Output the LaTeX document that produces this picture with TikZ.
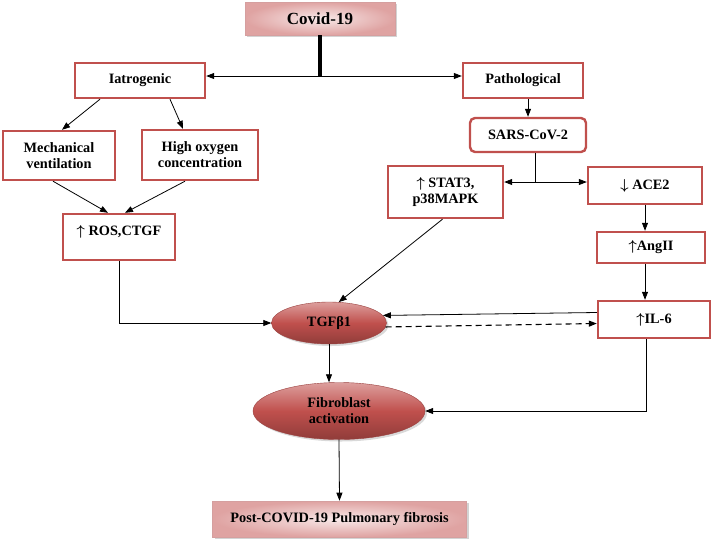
\documentclass[tikz,border=0pt]{standalone}
\usepackage{fontspec}
\setmainfont{Liberation Serif}
\usetikzlibrary{positioning, arrows.meta, shapes.geometric, shadows}
\definecolor{boxred}{HTML}{C0504D}
\definecolor{pinkdark}{HTML}{DFA3A2}
\definecolor{pinklight}{HTML}{F8E9E9}
\newcommand{\upar}{{\boldmath$\uparrow$}}
\newcommand{\downar}{{\boldmath$\downarrow$}}
\tikzset{
  box/.style={draw=boxred, line width=2.4pt, fill=white, align=center,
    font=\bfseries\fontsize{14.3}{16}\selectfont, inner sep=2pt},
  banner/.style={inner color=pinklight, outer color=pinkdark, draw=pinkdark!90!gray,
    line width=0.6pt, align=center, drop shadow={shadow xshift=2pt, shadow yshift=-2pt, opacity=0.35},
    font=\bfseries\fontsize{14.3}{16}\selectfont},
  oval/.style={ellipse, top color=boxred!55, bottom color=boxred!75!black, middle color=boxred,
    draw=boxred!80!black, line width=0.4pt, align=center,
    drop shadow={shadow xshift=2pt, shadow yshift=-2pt, opacity=0.3},
    font=\bfseries\fontsize{14.3}{16}\selectfont, inner sep=0pt}
}

\begin{document}
\begin{tikzpicture}[x=1pt,y=-1pt,>={Triangle[length=8pt,width=6pt]},line width=0.8pt]
  \useasboundingbox (0,0) rectangle (711,541);

  \node[banner, minimum width=150, minimum height=33, font=\bfseries\fontsize{17}{19}\selectfont] (covid) at (320,18.5) {Covid-19};
  \node[box, minimum width=130, minimum height=35] (iatro) at (140,80.5) {Iatrogenic};
  \node[box, minimum width=120, minimum height=35] (patho) at (523,80.5) {Pathological};
  \node[box, minimum width=112, minimum height=49] (mech) at (59,155.5) {Mechanical\\ventilation};
  \node[box, minimum width=116, minimum height=50] (oxy) at (200,155) {High oxygen\\concentration};
  \node[box, minimum width=112, minimum height=46, text depth=14pt] (ros) at (119,237) {\upar\ ROS,CTGF};
  \node[box, rounded corners=5pt, minimum width=116, minimum height=34] (sars) at (528,135) {SARS-CoV-2};
  \node[box, minimum width=115, minimum height=52] (stat) at (445.5,192) {\upar\ STAT3,\\p38MAPK};
  \node[box, minimum width=114, minimum height=37] (ace) at (645,185.5) {\downar\ ACE2};
  \node[box, minimum width=108, minimum height=31] (ang) at (651,247.5) {\upar AngII};
  \node[box, minimum width=112, minimum height=37] (il6) at (654,319.5) {\upar IL-6};
  \node[oval, minimum width=115, minimum height=42] (tgf) at (329,323) {TGFβ1};
  \node[oval, minimum width=172, minimum height=57] (fib) at (339,411) {Fibroblast\\activation};
  \node[banner, minimum width=254, minimum height=36] (post) at (339.5,519) {Post-COVID-19 Pulmonary fibrosis};

  \coordinate (j_top) at (320,76);
  \coordinate (j_mid) at (535,182);

  \draw[line width=3.5pt] (covid.south) -- (j_top);
  \draw[<->] (iatro.east |- j_top) -- (patho.west |- j_top);
  \draw[->] (patho.south -| sars.north) -- (sars.north);
  \draw (sars.south -| j_mid) -- (j_mid);
  \draw[<->] (stat.east |- j_mid) -- (ace.west |- j_mid);

  \path[->]
    ([xshift=-40pt]iatro.south) edge ([xshift=3pt]mech.north)
    ([xshift=30pt]iatro.south) edge ([xshift=-17pt]oxy.north)
    ([xshift=-6pt]mech.south) edge ([xshift=-11pt]ros.north)
    ([xshift=-15pt]oxy.south) edge ([xshift=6pt]ros.north)
    ([xshift=-3pt]stat.south) edge (tgf.65)
    ([yshift=7pt]il6.west) edge (tgf.8)
    (ace.south) edge (ace.south |- ang.north)
    (ang.south -| ace.south) edge (il6.north -| ace.south)
    (tgf.south) edge (tgf.south |- fib.north)
    (fib.south) edge (post.north)
    ;
  \draw[->, line width=1.1pt, dash pattern=on 6pt off 4pt] (tgf.-4) -- ([yshift=-4pt]il6.west);
  \draw[->] (ros.south) |- (tgf.west);
  \draw[->] ([xshift=-8pt]il6.south) |- (fib.east);
\end{tikzpicture}
\end{document}
